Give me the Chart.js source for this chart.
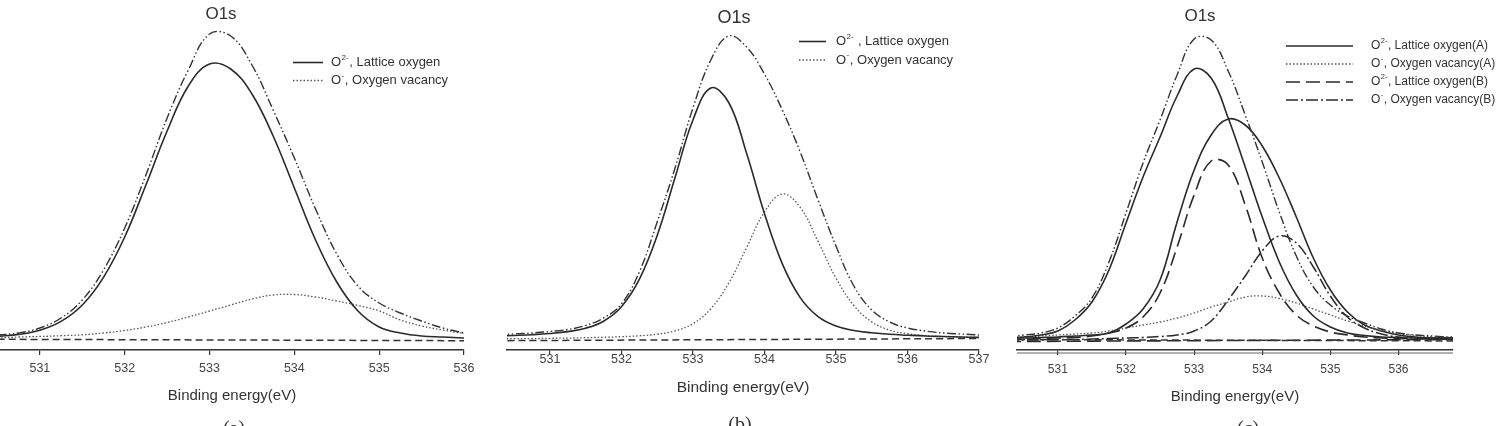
<!DOCTYPE html>
<html><head><meta charset="utf-8">
<script src="https://cdn.jsdelivr.net/npm/chart.js@4/dist/chart.umd.min.js"></script>
<style>
html,body{margin:0;padding:0;background:#fff;width:1497px;height:426px;overflow:hidden}
canvas{position:absolute;left:0;top:0}
</style></head><body>
<canvas id="ca" width="1497" height="426"></canvas>
<canvas id="cb" width="1497" height="426"></canvas>
<canvas id="cc" width="1497" height="426"></canvas>
<script>
// ---------- Panel (a) ----------
const energyA = [530.5,530.75,531,531.25,531.5,531.75,532,532.25,532.5,532.75,533,533.25,533.5,533.75,534,534.25,534.5,534.75,535,535.25,535.5,535.75,536];
const envelopeA = [15,17,22,32,50,80,122,175,232,280,316,314,285,240,192,141,96,64,47,37,29,22,17];
const latticeA = [13.6,15.6,19.8,28.6,45,72.7,113,165,219,264,286,281,256,214,162,110,68,39,23,17,14,13,12];
const vacancyA = [12,13,13.5,14.3,15.2,17,19.5,23,27.5,33,39,45,51,55,55.5,53,49,44.5,39,30,24,20,16.5];
const baseEnergyA = [530.5,536];
const baselineA = [10.7,9.3];
const ticksA = [531,532,533,534,535,536];

// ---------- Panel (b) ----------
const energyB = [530.25,530.5,530.75,531,531.25,531.5,531.75,532,532.25,532.5,532.75,533,533.25,533.5,533.75,534,534.25,534.5,534.75,535,535.25,535.5,535.75,536,536.25,536.5,536.75,537];
const envelopeB = [15,16,17,18.5,20.5,24.5,32,46,78,128,182,242,290,314,303,276,240,198,150,104,64,40,28,22,19,17,16,15];
const latticeB = [13.8,14.5,15.3,16.5,18.4,21.8,28.8,43.3,70.6,114.5,172.4,230,262,247.5,196.7,136.5,86.1,52.4,33.4,24,19.5,17.2,15.7,14.8,14,13.5,13,12.6];
const vacancyB = [11.1,11.3,11.4,11.7,11.9,12.3,12.7,13.3,14.2,15.8,19.1,26.3,41.2,66.9,102.3,138,156,142.6,108.4,72,44.5,28.1,19.9,16.2,14.4,13.4,12.8,12.4];
const baseEnergyB = [530.25,537];
const baselineB = [9.3,11.5];
const ticksB = [531,532,533,534,535,536,537];

// ---------- Panel (c) ----------
const energyC = [530.25,530.5,530.75,531,531.25,531.5,531.75,532,532.25,532.5,532.75,533,533.25,533.5,533.75,534,534.25,534.5,534.75,535,535.25,535.5,535.75,536,536.25,536.5,536.75,537];
const envelopeCA = [13,15,17,22,34,52,88,137,187,230,275,311,310,279,235,188,138,94,63,45,34,27,21,17,15,14,13,13];
const latticeCA = [12,13,15,19,30,48,80,127,173,213,254,281,272,232,183,133,88,55,34,23,17,14.5,13,12.5,12,12,12,12];
const vacancyCA = [12.5,13,14,15,16,17,19,22,25,28,32,37,43,48,53,54,51.5,47,41,35,29,24,19.5,16.5,14.5,13,12.5,12];
const envelopeCB = [12,12,12.5,13,14,15,17,26,41,70,128,180,215,231,225,204,172,133,92,60,38,25,19,15,13,12,12,12];
const latticeCB = [11,11,11.5,12,12.5,14,17,22,33,57,103,155,189,185,145,92,57,35,24,18,15,13,12,11.5,11,11,11,11];
const vacancyCB = [10,10,10,10.5,10.5,11,11.5,12,12.5,13.5,15,19,29,50,74,99,114,107,83,54,33,22,16,13,12,11,10.5,10];
const baseEnergyC = [530.25,537];
const baselineCA = [10.5,9];
const baselineCB = [8.5,10.5];
const ticksC = [531,532,533,534,535,536];

// ---------- styles ----------
const ST = {
  solid:   {borderColor:'#2a2a2a', borderWidth:1.6, borderDash:[]},
  dotted:  {borderColor:'#555', borderWidth:1.3, borderDash:[1.5,2]},
  env:     {borderColor:'#333', borderWidth:1.4, borderDash:[9,2.5,1.5,2.5,1.5,2.5]},
  base:    {borderColor:'#333', borderWidth:1.5, borderDash:[7,4]},
  longdash:{borderColor:'#2a2a2a', borderWidth:1.6, borderDash:[14,6]},
  dashdot: {borderColor:'#2a2a2a', borderWidth:1.5, borderDash:[12,3,2,3]}
};
function pts(xs, ys){ return xs.map((x,i)=>({x:x, y:ys[i]})); }
function ds(label, xs, ys, style){
  return Object.assign({label:label, data:pts(xs,ys), pointRadius:0, fill:false, tension:0.4}, style);
}

const supMap = {'²':'2','⁻':'-'};
function drawLabel(ctx, text, x, y, size, family){
  let i = 1, sup = '';
  while (i < text.length && supMap[text[i]] !== undefined) { sup += supMap[text[i]]; i++; }
  const rest = text.slice(i);
  ctx.font = size + 'px ' + family;
  ctx.fillText(text[0], x, y);
  let w = ctx.measureText(text[0]).width;
  ctx.font = (size*0.62) + 'px ' + family;
  ctx.fillText(sup, x + w + 0.5, y - size*0.38);
  const ws = ctx.measureText(sup).width;
  ctx.font = size + 'px ' + family;
  ctx.fillText(rest, x + w + ws + 1, y);
}

const overlay = {
  id:'overlay',
  afterDraw(chart, args, o){
    const ctx = chart.ctx;
    ctx.save();
    ctx.fillStyle = '#333';
    ctx.textAlign = 'center';
    ctx.textBaseline = 'middle';
    ctx.font = o.titleSize + 'px "Liberation Sans", Arial, sans-serif';
    ctx.fillText(o.title, o.titleX, o.titleY);
    ctx.font = '20px "Liberation Serif", "Times New Roman", serif';
    ctx.textBaseline = 'top';
    ctx.fillText(o.caption, o.capX, o.capY);
    if (o.doubleAxis) {
      const a = chart.chartArea;
      ctx.beginPath(); ctx.setLineDash([]); ctx.lineWidth = 1.2; ctx.strokeStyle = '#666';
      ctx.moveTo(a.left, a.bottom + 3); ctx.lineTo(a.right, a.bottom + 3); ctx.stroke();
    }
    ctx.textAlign = 'left';
    ctx.textBaseline = 'middle';
    o.legend.forEach((idx, r) => {
      const d = chart.data.datasets[idx];
      const y = o.legY + r*o.legRow;
      ctx.beginPath();
      ctx.setLineDash(d.borderDash || []);
      ctx.lineWidth = d.borderWidth;
      ctx.strokeStyle = d.borderColor;
      ctx.moveTo(o.legX, y); ctx.lineTo(o.legX + o.legLen, y); ctx.stroke();
      ctx.setLineDash([]);
      ctx.fillStyle = '#333';
      drawLabel(ctx, d.label, o.legTextX, y, o.legSize, '"Liberation Sans", Arial, sans-serif');
    });
    ctx.restore();
  }
};

function makeChart(id, c){
  return new Chart(document.getElementById(id), {
    type:'line',
    data:{datasets:c.datasets},
    options:{
      responsive:false, animation:false, events:[],
      layout:{padding:{left:c.left, right:1497 - c.right, top:20, bottom:10}},
      plugins:{legend:{display:false}, tooltip:{enabled:false}, title:{display:false}, overlay:c.overlay},
      scales:{
        x:{
          type:'linear', min:c.min, max:c.max,
          afterBuildTicks: s => { s.ticks = c.ticks.map(v => ({value:v})); },
          afterFit: s => { s.height = 66; },
          grid:{drawOnChartArea:false, drawTicks:true, tickLength:5, color:'#333', lineWidth:1.2},
          border:{display:true, color:'#333', width:1.5},
          ticks:{font:{family:'"Liberation Sans", Arial, sans-serif', size:c.tickSize}, color:'#444',
                 padding:c.tickPad, maxRotation:0, autoSkip:false, callback: v => String(v)},
          title:{display:true, text:'Binding energy(eV)', color:'#333',
                 font:{family:'"Liberation Sans", Arial, sans-serif', size:c.axisTitleSize},
                 padding:{top:0, bottom:c.titlePadB}}
        },
        y:{display:false, min:0, max:330}
      }
    },
    plugins:[overlay]
  });
}

makeChart('ca', {
  left:0, right:464, min:530.53, max:536, ticks:ticksA, tickSize:12.5, tickPad:6, axisTitleSize:15, titlePadB:11,
  datasets:[
    ds('Background', baseEnergyA, baselineA, ST.base),
    ds('Envelope', energyA, envelopeA, ST.env),
    ds('O²⁻, Lattice oxygen', energyA, latticeA, ST.solid),
    ds('O⁻, Oxygen vacancy', energyA, vacancyA, ST.dotted)
  ],
  overlay:{title:'O1s', titleSize:17, titleX:221, titleY:14, caption:'(a)', capX:234, capY:419.5,
           legend:[2,3], legX:293, legLen:30, legTextX:331, legY:62.5, legRow:18, legSize:13}
});

makeChart('cb', {
  left:507, right:979, min:530.4, max:537, ticks:ticksB, tickSize:12.5, tickPad:-2.5, axisTitleSize:15.5, titlePadB:19,
  datasets:[
    ds('Background', baseEnergyB, baselineB, ST.base),
    ds('Envelope', energyB, envelopeB, ST.env),
    ds('O²⁻ , Lattice oxygen', energyB, latticeB, ST.solid),
    ds('O⁻, Oxygen vacancy', energyB, vacancyB, ST.dotted)
  ],
  overlay:{title:'O1s', titleSize:18, titleX:734, titleY:18, caption:'(b)', capX:740, capY:416,
           legend:[2,3], legX:799, legLen:27, legTextX:836, legY:41.5, legRow:18.5, legSize:13}
});

makeChart('cc', {
  left:1017, right:1453, min:530.4, max:536.8, ticks:ticksC, tickSize:12, tickPad:7.8, axisTitleSize:15, titlePadB:10.5,
  datasets:[
    ds('Background (A)', baseEnergyC, baselineCA, ST.base),
    ds('Background (B)', baseEnergyC, baselineCB, ST.longdash),
    ds('Envelope (A)', energyC, envelopeCA, ST.env),
    ds('O²⁻, Lattice oxygen(A)', energyC, latticeCA, ST.solid),
    ds('O⁻, Oxygen vacancy(A)', energyC, vacancyCA, ST.dotted),
    ds('Envelope (B)', energyC, envelopeCB, ST.solid),
    ds('O²⁻, Lattice oxygen(B)', energyC, latticeCB, ST.longdash),
    ds('O⁻, Oxygen vacancy(B)', energyC, vacancyCB, ST.dashdot)
  ],
  overlay:{title:'O1s', titleSize:17, titleX:1200, titleY:16, caption:'(c)', capX:1248, capY:419.5,
           doubleAxis:true,
           legend:[3,4,6,7], legX:1286, legLen:67, legTextX:1371, legY:46, legRow:18, legSize:12}
});
</script>
</body></html>
